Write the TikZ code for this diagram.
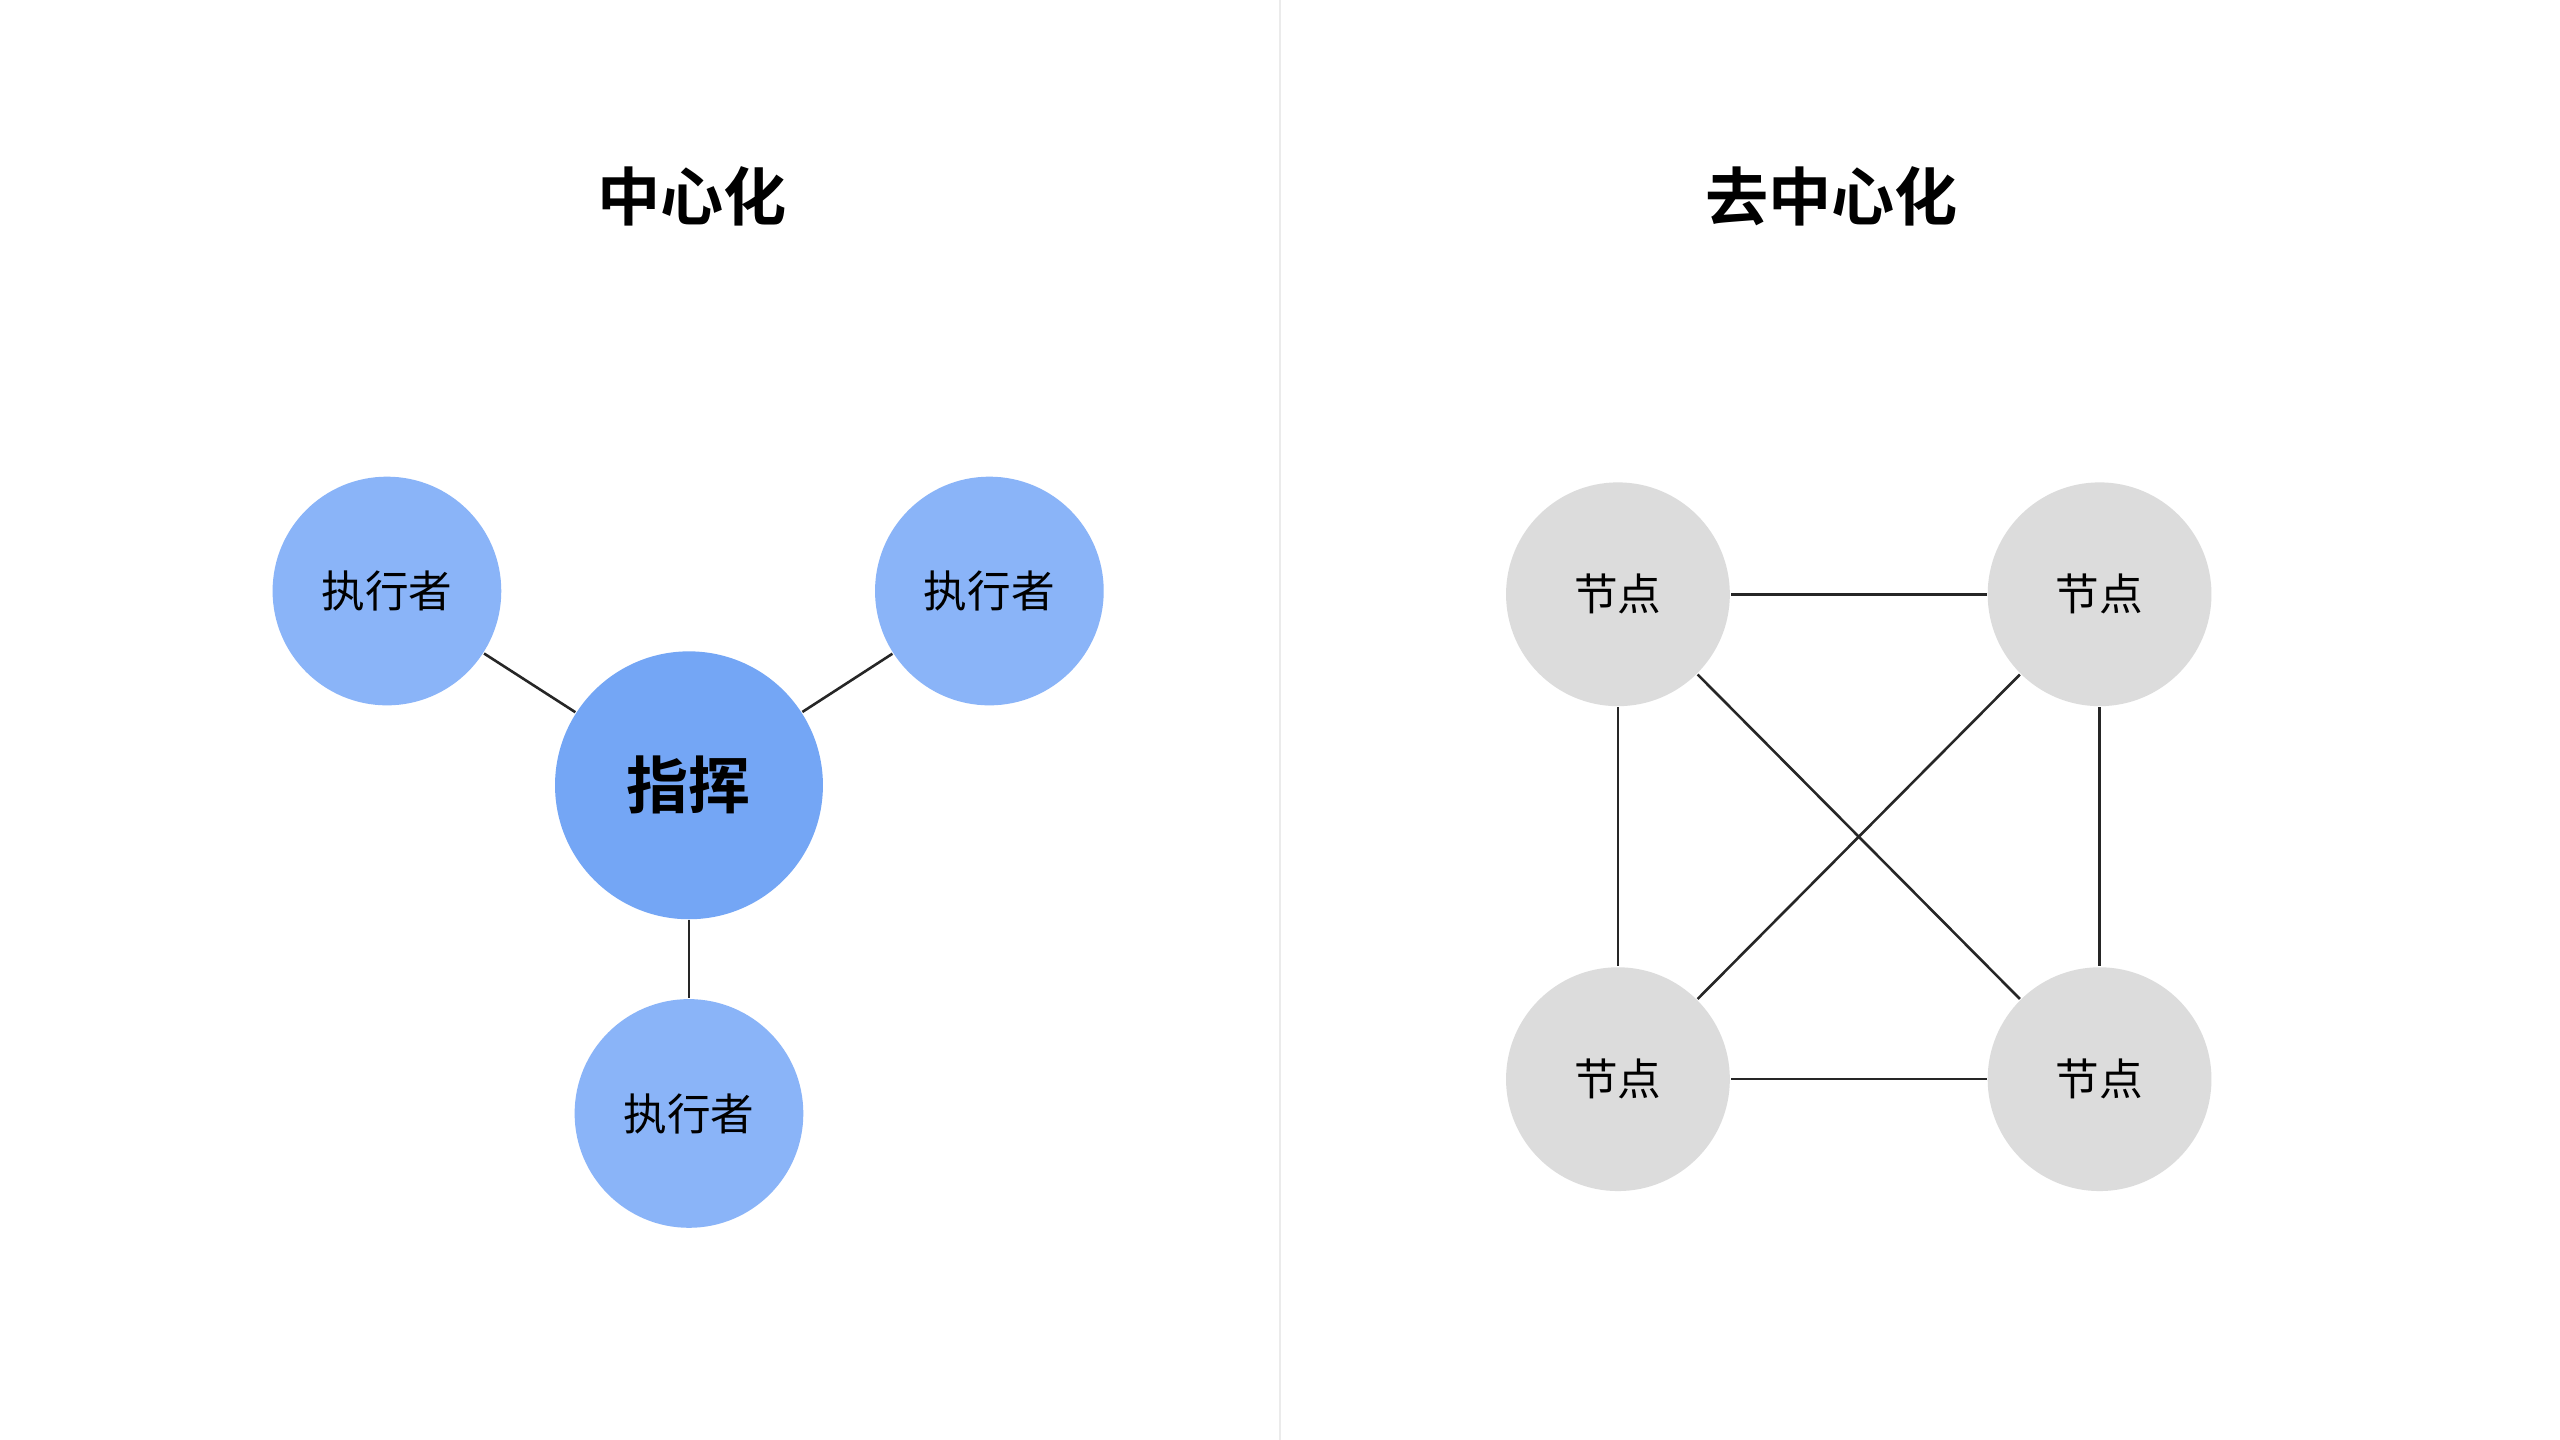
\documentclass[tikz,border=0pt]{standalone}
\usepackage{fontspec}
\setmainfont{Noto Sans CJK SC}[BoldFont={Noto Sans CJK SC Bold}]
\begin{document}
\begin{tikzpicture}[x=0.01cm,y=-0.01cm,
  title/.style={font=\bfseries\fontsize{11}{13}\selectfont},
  exec/.style={circle,fill=blue1,minimum size=140\pgflinewidth,inner sep=0pt,minimum size=1.40cm,font=\fontsize{7.6}{9}\selectfont},
  hub/.style={circle,fill=blue2,inner sep=0pt,minimum size=1.64cm,font=\bfseries\fontsize{10.8}{12}\selectfont},
  peer/.style={circle,fill=gray1,inner sep=0pt,minimum size=1.37cm,font=\fontsize{7.6}{9}\selectfont},
  link/.style={draw=black!85,line width=0.45pt}]
\definecolor{blue1}{HTML}{8AB4F8}
\definecolor{blue2}{HTML}{74A6F5}
\definecolor{gray1}{HTML}{DCDCDC}
\useasboundingbox[fill=white] (0,0) rectangle (1568,882);
\coordinate (dtop) at (784,0);
\coordinate (dbot) at (784,882);
\draw[black!8,line width=0.5pt] (dtop) -- (dbot);
\node[title] (t1) at (424,120) {中心化};
\node[title] (t2) at (1122,120) {去中心化};
\node[hub] (h) at (422,481) {指挥};
\node[exec] (e1) at (237,362) {执行者};
\node[exec] (e2) at (606,362) {执行者};
\node[exec] (e3) at (422,682) {执行者};
\draw[link] (h) -- (e1);
\draw[link] (h) -- (e2);
\draw[link] (h) -- (e3);
\node[peer] (a) at (991,364) {节点};
\node[peer] (b) at (1286,364) {节点};
\node[peer] (c) at (991,661) {节点};
\node[peer] (d) at (1286,661) {节点};
\draw[link] (a) -- (b);
\draw[link] (c) -- (d);
\draw[link] (a) -- (c);
\draw[link] (b) -- (d);
\draw[link] (a) -- (d);
\draw[link] (b) -- (c);
\end{tikzpicture}
\end{document}
